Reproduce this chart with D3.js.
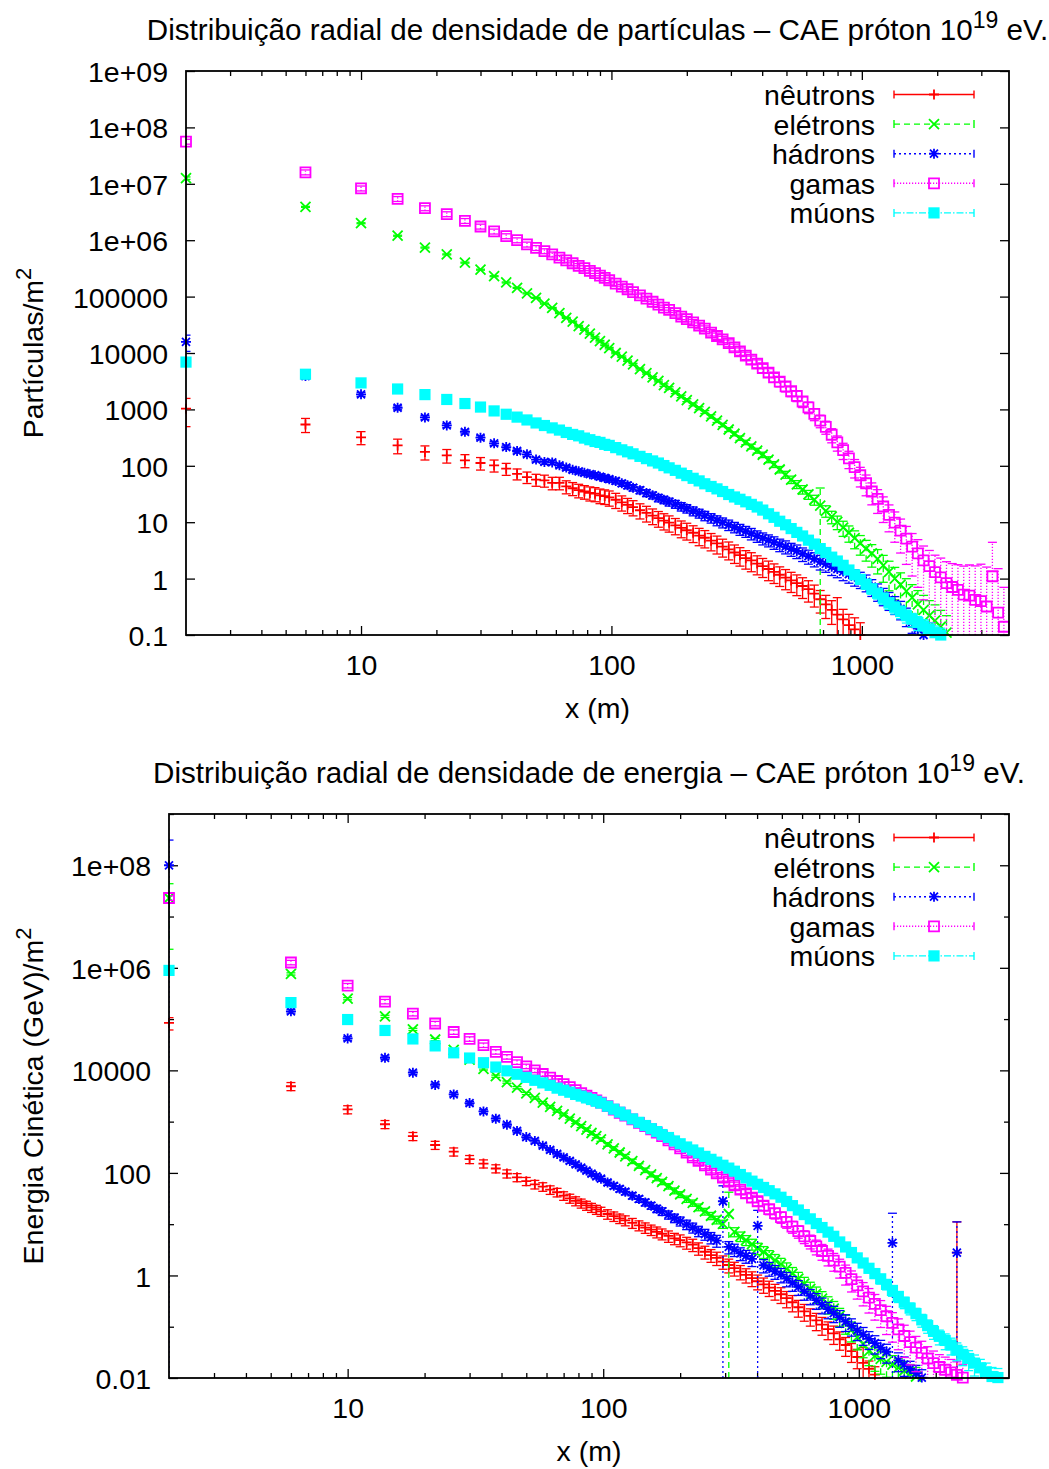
<!DOCTYPE html>
<html><head><meta charset="utf-8">
<script src="https://cdn.jsdelivr.net/npm/d3@7"></script>
<style>body{margin:0;background:#fff}</style>
</head><body>
<svg id="c" width="1049" height="1469"></svg>
<script>
// ---------- DATA ----------
const X = [2,6,10,14,18,22,26,30,34,38,42,46,50,54,58,62,66,70,74,78,82,86,90,94,98,
104,110,116,122,130,138,146,154,162,170,180,190,200,212,224,236,250,264,278,294,310,326,344,362,382,
402,424,446,470,496,522,550,580,612,646,682,718,758,798,842,888,936,986,1040,1096,1156,1218,1284,1354,1428,
1506,1588,1674,1764,1860,1960,2066,2178,2296,2420,2552,2690,2836,2990,3152,3322,3502,3692];

const seriesNames = ["nêutrons","elétrons","hádrons","gamas","múons"];

// Partículas/m2 (top chart)
const neutronsTop = [1030,540,320,230,176,153,125,112,102,89,
 72,63,57,55,50,50,43,40,37,35,
 33,32,30,29,27.5,25,22.5,20.3,18.5,16.3,
 14.6,13.1,11.8,10.7,9.8,8.8,7.9,7.2,6.5,5.8,
 5.3,4.7,4.2,3.7,3.3,2.9,2.6,2.3,2.1,1.85,
 1.66,1.48,1.32,1.17,1.04,0.93,0.83,0.74,0.65,0.54,
 0.43,0.35,0.28,0.23,0.19,0.15,0.126,0.1];
const neutronsTopErr = [.52,.28,.26,.29,.28,.27,.26,.25,.24,.24,
 .22,.23,.24,.24,.25,.25,.26,.26,.27,.27,
 .28,.28,.29,.29,.3,.3,.3,.3,.3,.3,
 .31,.31,.31,.32,.32,.32,.33,.33,.33,.34,
 .34,.34,.35,.35,.35,.36,.36,.36,.37,.37,
 .37,.38,.38,.38,.39,.39,.4,.4,.41,.42,
 .43,.44,.45,1.0,.5,.55,.6,.65];

const electronsTop = [1.26e7,3.9e6,2.0e6,1.2e6,7.4e5,5.6e5,4.0e5,3.0e5,2.3e5,1.78e5,
 1.43e5,1.14e5,9.5e4,7.5e4,6.3e4,5.1e4,4.2e4,3.6e4,3.0e4,2.6e4,
 2.2e4,1.88e4,1.62e4,1.4e4,1.22e4,1.0e4,8.6e3,7.3e3,6.3e3,5.2e3,
 4.4e3,3.7e3,3.2e3,2.7e3,2.4e3,2.0e3,1.7e3,1.46e3,1.23e3,1.05e3,
 900,750,630,530,440,370,310,260,220,186,
 157,129,106,86,70,57,47,38,31,25,
 19.7,15.9,12.5,10.1,8.0,6.5,5.2,4.2,3.4,2.8,
 2.24,1.72,1.32,1.0,0.78,0.6,0.46,0.35,0.28,0.22,
 0.18,0.14,0.11];
const electronsTopErr = [.05,.02,.02,.02,.02,.02,.02,.02,.02,.02,
 .02,.02,.02,.02,.02,.02,.02,.02,.03,.03,
 .03,.03,.03,.03,.03,.03,.03,.03,.04,.04,
 .04,.04,.04,.05,.05,.05,.05,.06,.06,.06,
 .06,.07,.07,.07,.08,.08,.09,.09,.1,.1,
 .11,.12,.12,.13,.14,.15,.16,.17,.18,.2,
 1.05,.23,.25,.27,.3,.32,.35,.38,.4,.43,
 .46,.5,.54,.58,.62,.66,.7,.75,.8,.85,
 .9,.95,1.0];

const hadronsTop = [1.57e4,3.9e3,1.85e3,1.07e3,720,520,400,315,250,215,
 183,160,129,117,115,102,93,85,80,75,
 71,68,64,61,58,54,49,45,41,37,
 33,30,27,25,23,21,19,17.5,15.8,14.4,
 13.1,11.9,10.8,9.9,9.0,8.2,7.5,6.9,6.3,5.7,
 5.2,4.8,4.4,4.0,3.7,3.35,3.1,2.75,2.5,2.24,
 2.0,1.82,1.62,1.48,1.33,1.2,1.08,0.98,0.87,0.72,
 0.6,0.5,0.42,0.355,0.29,0.22,0.17,0.13,0.1];
const hadronsTopErr = [.32,.1,.08,.08,.08,.08,.08,.08,.08,.08,
 .08,.08,.09,.09,.09,.09,.1,.1,.1,.1,
 .1,.11,.11,.11,.12,.12,.12,.13,.13,.14,
 .14,.14,.15,.15,.16,.16,.17,.17,.18,.18,
 .19,.19,.2,.2,.21,.21,.22,.22,.23,.23,
 .24,.24,.25,.25,.26,.26,.27,.27,.28,.28,
 .29,.29,.3,.3,.31,.31,.32,.32,.33,.33,
 .34,.34,.35,.35,.36,.36,.37,.37,.38];

const gamasTop = [5.6e7,1.6e7,8.3e6,5.4e6,3.7e6,2.9e6,2.2e6,1.75e6,1.43e6,1.18e6,
 1.0e6,8.4e5,7.3e5,6.4e5,5.6e5,4.9e5,4.4e5,3.9e5,3.5e5,3.2e5,
 2.85e5,2.6e5,2.35e5,2.15e5,1.95e5,1.7e5,1.5e5,1.35e5,1.2e5,1.05e5,
 9.2e4,8.1e4,7.2e4,6.4e4,5.8e4,5.1e4,4.4e4,4.0e4,3.5e4,3.05e4,
 2.7e4,2.3e4,2.0e4,1.75e4,1.5e4,1.26e4,1.07e4,9.0e3,7.6e3,6.5e3,
 5.4e3,4.5e3,3.7e3,3.1e3,2.55e3,2.1e3,1.74e3,1.38e3,1.09e3,830,
 630,490,355,260,190,135,95,68,49,35,
 26,19,13.5,9.8,7.1,5.1,3.7,2.8,2.1,1.66,
 1.3,1.05,0.83,0.71,0.63,0.52,0.5,0.42,0.4,0.32,
 1.1,0.25,0.14];
const gamasTopErr = [.1,.1,.1,.1,.1,.1,.1,.1,.1,.1,
 .1,.1,.1,.1,.1,.1,.1,.1,.1,.1,
 .1,.1,.1,.1,.1,.1,.1,.1,.1,.1,
 .1,.1,.1,.1,.1,.11,.11,.11,.12,.12,
 .12,.13,.13,.13,.14,.14,.15,.15,.16,.16,
 .17,.17,.18,.19,.2,.2,.21,.22,.23,.24,
 .25,.26,.28,.3,.32,.34,.36,.38,.4,.42,
 .45,.48,.5,.55,.6,.65,.7,.75,.8,.9,
 1.0,1.2,1.4,1.6,1.8,2.2,2.5,3,3.5,4,
 3,5,4];

const muonsTop = [6.9e3,4.2e3,2.95e3,2.3e3,1.83e3,1.5e3,1.27e3,1.1e3,940,820,
 730,650,575,518,470,430,390,360,340,310,
 290,270,260,240,230,210,192,177,163,147,
 134,122,112,101,92,83,74,67,60,54,
 48,43,39,35,31,28,25.5,23,20.7,18.6,
 16.4,14.1,12.2,10.4,9.0,7.7,6.6,5.7,4.8,4.1,
 3.4,2.9,2.4,2.05,1.72,1.42,1.17,0.97,0.8,0.66,
 0.55,0.45,0.37,0.31,0.26,0.22,0.19,0.166,0.145,0.126,
 0.11,0.1];
const muonsTopErr = [.03,.03,.03,.03,.03,.03,.03,.03,.03,.03,
 .03,.03,.03,.03,.03,.03,.03,.03,.03,.03,
 .03,.03,.03,.03,.03,.03,.03,.03,.03,.03,
 .03,.03,.03,.03,.03,.03,.03,.03,.03,.03,
 .04,.04,.04,.04,.05,.05,.05,.05,.06,.06,
 .06,.07,.07,.08,.08,.09,.09,.1,.1,.11,
 .12,.12,.13,.14,.15,.16,.17,.18,.19,.2,
 .21,.22,.23,.24,.25,.26,.27,.28,.29,.3,
 .31,.32];

// Energia Cinética (GeV)/m2 (bottom chart)
const neutronsBot = [8.4e4,4.9e3,1.73e3,890,520,350,260,185,152,122,
 97,82,69,60,54,47,42,36,32,28.5,
 25.7,23.3,21.2,19.4,17.8,15.8,14.3,13.0,11.9,10.6,
 9.5,8.6,7.8,7.1,6.5,5.9,5.3,4.9,4.4,4.0,
 3.4,2.9,2.5,2.2,1.86,1.6,1.39,1.19,1.03,0.89,
 0.77,0.67,0.58,0.5,0.43,0.36,0.3,0.24,0.2,0.163,
 0.133,0.11,0.09,0.074,0.057,0.044,0.0335,0.0257,0.0197,0.0151,
 0.0116,null,null,null,null,null,null,null,null,null,
 null,null,null,null,2.8];
const neutronsBotErr = [.27,.18,.18,.18,.18,.18,.18,.18,.18,.18,
 .18,.18,.18,.19,.19,.19,.19,.19,.2,.2,
 .2,.2,.2,.2,.2,.21,.21,.21,.22,.22,
 .22,.23,.23,.24,.24,.25,.25,.26,.26,.27,
 .27,.28,.28,.29,.29,.3,.3,.31,.31,.32,
 .32,.33,.33,.34,.34,.35,.35,.36,.36,.37,
 .37,.38,.38,.39,.39,.4,.4,.41,1.0,.42,
 .43,0,0,0,0,0,0,0,0,0,
 0,0,0,0,2.96];

const electronsBot = [2.3e7,7.6e5,2.5e5,1.13e5,6.3e4,4.0e4,2.5e4,1.62e4,1.07e4,7.7e3,
 5.9e3,4.6e3,3.55e3,2.9e3,2.35e3,1.95e3,1.62e3,1.38e3,1.15e3,970,
 820,700,600,520,450,360,300,250,210,169,
 137,113,94,79,67,55,45,38,31,26,
 21.5,17.7,14.6,12.2,10.1,15.8,7.1,5.8,4.9,4.1,
 3.4,2.9,2.4,2.0,1.67,1.35,1.09,0.87,0.69,0.55,
 0.44,0.355,0.28,0.225,0.164,0.119,0.087,0.063,0.046,0.0335,
 0.027,0.0237,0.0207,0.0182,0.0159,0.014,0.0122,0.0107];
const electronsBotErr = [.9,.05,.05,.05,.05,.05,.05,.05,.05,.05,
 .05,.05,.05,.05,.05,.06,.06,.06,.06,.06,
 .07,.07,.07,.07,.08,.08,.08,.09,.09,.1,
 .1,.1,.11,.11,.12,.12,.13,.13,.14,.14,
 .15,.15,.16,.17,.18,1.66,.2,.21,.22,.24,
 .25,.26,.27,.28,.29,.3,.31,.32,.33,.34,
 .35,.36,.37,.38,.39,.4,.42,.44,.46,.48,
 .5,.5,.5,.5,.5,.5,.5,.5];

const hadronsBot = [1.0e8,1.42e5,4.2e4,1.76e4,9.0e3,5.2e3,3.4e3,2.3e3,1.58e3,1.14e3,
 870,660,500,420,340,280,235,200,171,147,
 127,111,97,86,77,65,56,49,43,36,
 31,26.6,23,20,17.8,15.3,13.2,11.5,9.9,8.6,
 7.4,6.4,5.5,4.8,28,3.6,3.2,2.7,2.4,2.1,
 9.3,1.58,1.38,1.2,1.04,0.87,0.72,0.6,0.49,0.4,
 0.33,0.27,0.22,0.185,0.152,0.126,0.104,0.085,0.07,0.058,
 0.048,0.039,0.0325,4.3,0.0221,0.0182,0.015,0.0124,0.0102,null,
 null,null,null,null,2.8];
const hadronsBotErr = [2.1,.08,.08,.08,.08,.08,.08,.08,.08,.08,
 .08,.08,.08,.09,.09,.09,.09,.1,.1,.1,
 .1,.1,.11,.11,.11,.12,.12,.13,.13,.14,
 .14,.15,.15,.16,.17,.18,.19,.2,.21,.22,
 .23,.24,.25,.26,1.0,.27,.27,.28,.28,.29,
 1.0,.29,.3,.3,.31,.31,.32,.32,.33,.33,
 .34,.34,.35,.35,.36,.36,.37,.37,.38,.38,
 .39,.39,.4,2.8,.4,.41,.41,.42,.42,0,
 0,0,0,0,2.96];

const gamasBot = [2.3e7,1.27e6,4.5e5,2.2e5,1.28e5,8.2e4,5.6e4,4.1e4,3.1e4,2.3e4,
 1.84e4,1.45e4,1.2e4,1.0e4,8.5e3,7.2e3,6.2e3,5.4e3,4.7e3,4.1e3,
 3.6e3,3.2e3,2.9e3,2.6e3,2.35e3,2.0e3,1.71e3,1.49e3,1.31e3,1.11e3,
 950,820,710,610,520,430,360,300,250,200,
 171,140,116,98,81,68,57,47,40,33,
 28,23,19.6,16.4,13.7,11.1,9.0,7.3,5.8,4.7,
 3.7,3.0,2.4,1.95,1.48,1.12,0.85,0.64,0.49,0.37,
 0.28,0.21,0.16,0.119,0.089,0.066,0.05,0.039,0.031,0.024,
 0.0195,0.0164,0.0145,0.0129,0.0115,0.0102];
const gamasBotErr = [.1,.1,.1,.1,.1,.1,.1,.1,.1,.1,
 .1,.1,.1,.1,.1,.1,.1,.1,.1,.1,
 .1,.1,.1,.1,.1,.1,.1,.1,.1,.1,
 .1,.1,.11,.11,.11,.12,.12,.12,.13,.13,
 .13,.14,.14,.15,.15,.16,.16,.17,.18,.19,
 .2,.21,.22,.23,.24,.25,.26,.27,.28,.3,
 .32,.34,.36,.38,.4,.42,.44,.46,.48,.5,
 .52,.54,.56,.58,.6,.62,.64,.66,.68,.7,
 .72,.74,.76,.78,.8,.82];

const muonsBot = [8.9e5,2.1e5,9.8e4,6.0e4,4.1e4,3.0e4,2.2e4,1.74e4,1.41e4,1.16e4,
 9.8e3,8.4e3,7.3e3,6.4e3,5.7e3,5.1e3,4.5e3,4.1e3,3.75e3,3.4e3,
 3.15e3,2.9e3,2.7e3,2.5e3,2.3e3,2.0e3,1.75e3,1.53e3,1.34e3,1.13e3,
 970,840,730,640,560,490,420,370,320,280,
 245,210,184,162,141,124,108,93,80,69,
 60,52,45,39,33.5,27.7,23,18.9,15.4,12.7,
 10.3,8.6,7.0,5.8,4.5,3.6,2.8,2.2,1.75,1.38,
 1.09,0.86,0.67,0.51,0.39,0.3,0.23,0.18,0.136,0.105,
 0.081,0.065,0.054,0.044,0.035,0.029,0.024,0.0195,0.0158,0.0132,
 0.0107,0.0102];
const muonsBotErr = [.03,.03,.03,.03,.03,.03,.03,.03,.03,.03,
 .03,.03,.03,.03,.03,.03,.03,.03,.03,.03,
 .03,.03,.03,.03,.03,.03,.03,.03,.03,.03,
 .03,.03,.03,.03,.03,.03,.03,.03,.03,.03,
 .03,.03,.04,.04,.04,.04,.05,.05,.05,.05,
 .06,.06,.06,.07,.07,.08,.08,.09,.09,.1,
 .1,.11,.12,.13,.14,.15,.16,.17,.18,.19,
 .2,.21,.22,.23,.24,.25,.26,.27,.28,.29,
 .3,.32,.34,.36,.38,.4,.42,.44,.46,.48,
 .5,.5];

// ticks
const xMajorTicks = [10,100,1000];
const xMajorLabels = ["10","100","1000"];
const xMinorTicks = [3,4,5,6,7,8,9,20,30,40,50,60,70,80,90,200,300,400,500,600,700,800,900,2000,3000];
const yTicksTop = [0.1,1,10,100,1000,1e4,1e5,1e6,1e7,1e8,1e9];
const yLabelsTop = ["0.1","1","10","100","1000","10000","100000","1e+06","1e+07","1e+08","1e+09"];
const yTicksBot = [0.01,1,100,1e4,1e6,1e8];
const yLabelsBot = ["0.01","1","100","10000","1e+06","1e+08"];
const yMinorBot = [0.1,10,1000,1e5,1e7,1e9];

// ---------- STYLE / LAYOUT ----------
const FONT = '"Liberation Sans", Arial, Helvetica, sans-serif';
const FS = 28.5;
const FS_TITLE = 29.6;
const colors = ["#ff0000","#00ff00","#0000ff","#ff00ff","#00ffff"];
const dashes = [null,"6,4","2,3","1.2,1.8","7,2,1.5,2"];
const markers = ["plus","cross","star","square","fsquare"];

const panels = [
  {left:186,right:1009,top:71,bottom:635,ydom:[0.1,1e9],
   yMajor:yTicksTop,yLabels:yLabelsTop,yMinor:[],
   title:["Distribuição radial de densidade de partículas – CAE próton 10","19"," eV."],titleY:40,
   ylabel:["Partículas/m","2"],
   series:[neutronsTop,electronsTop,hadronsTop,gamasTop,muonsTop],
   errs:[neutronsTopErr,electronsTopErr,hadronsTopErr,gamasTopErr,muonsTopErr]},
  {left:169,right:1009,top:814,bottom:1378,ydom:[0.01,1e9],
   yMajor:yTicksBot,yLabels:yLabelsBot,yMinor:yMinorBot,
   title:["Distribuição radial de densidade de energia – CAE próton 10","19"," eV."],titleY:783,
   ylabel:["Energia Cinética (GeV)/m","2"],
   series:[neutronsBot,electronsBot,hadronsBot,gamasBot,muonsBot],
   errs:[neutronsBotErr,electronsBotErr,hadronsBotErr,gamasBotErr,muonsBotErr]}
];

const svg = d3.select("#c");
svg.append("rect").attr("width",1049).attr("height",1469).attr("fill","#fff");

function markerPath(type){
  const s = 5;
  switch(type){
    case "plus": return `M${-s},0H${s}M0,${-s}V${s}`;
    case "cross": return `M${-s},${-s}L${s},${s}M${-s},${s}L${s},${-s}`;
    case "star": return `M${-s},0H${s}M0,${-s}V${s}M${-s*0.8},${-s*0.8}L${s*0.8},${s*0.8}M${-s*0.8},${s*0.8}L${s*0.8},${-s*0.8}`;
    case "square": return `M${-s},${-s}H${s}V${s}H${-s}Z`;
    case "fsquare": return `M${-s-0.6},${-s-0.6}H${s+0.6}V${s+0.6}H${-s-0.6}Z`;
  }
}
function drawMarker(g, type, color, cx, cy){
  const p = g.append("path").attr("d", markerPath(type)).attr("transform",`translate(${cx},${cy})`);
  if(type==="fsquare") p.attr("fill",color).attr("stroke","none");
  else p.attr("fill","none").attr("stroke",color).attr("stroke-width",1.8);
}

panels.forEach((P, pi) => {
  const x = d3.scaleLog().domain([2,3870]).range([P.left,P.right]);
  const y = d3.scaleLog().domain(P.ydom).range([P.bottom,P.top]);
  const W = P.right-P.left, H = P.bottom-P.top;

  const clipId = "clip"+pi;
  svg.append("clipPath").attr("id",clipId).append("rect")
    .attr("x",P.left).attr("y",P.top).attr("width",W).attr("height",H);

  // axes (inward ticks, gnuplot style)
  const gx = svg.append("g").attr("transform",`translate(0,${P.bottom})`)
    .call(d3.axisBottom(x).tickValues(xMajorTicks).tickFormat((d,i)=>xMajorLabels[i]).tickSize(-9).tickSizeOuter(0).tickPadding(20));
  gx.attr("font-family",FONT).attr("font-size",FS);
  gx.select(".domain").remove();
  const gxm = svg.append("g").attr("transform",`translate(0,${P.bottom})`)
    .call(d3.axisBottom(x).tickValues(xMinorTicks).tickFormat("").tickSize(-5).tickSizeOuter(0));
  gxm.select(".domain").remove();
  const gxt = svg.append("g").attr("transform",`translate(0,${P.top})`)
    .call(d3.axisTop(x).tickValues(xMajorTicks).tickFormat("").tickSize(-9).tickSizeOuter(0));
  gxt.select(".domain").remove();
  const gxtm = svg.append("g").attr("transform",`translate(0,${P.top})`)
    .call(d3.axisTop(x).tickValues(xMinorTicks).tickFormat("").tickSize(-5).tickSizeOuter(0));
  gxtm.select(".domain").remove();

  const gy = svg.append("g").attr("transform",`translate(${P.left},0)`)
    .call(d3.axisLeft(y).tickValues(P.yMajor).tickFormat((d,i)=>P.yLabels[i]).tickSize(-9).tickSizeOuter(0).tickPadding(18));
  gy.attr("font-family",FONT).attr("font-size",FS);
  gy.selectAll("text").attr("dy","0.37em");
  gy.select(".domain").remove();
  const gyr = svg.append("g").attr("transform",`translate(${P.right},0)`)
    .call(d3.axisRight(y).tickValues(P.yMajor).tickFormat("").tickSize(-9).tickSizeOuter(0));
  gyr.select(".domain").remove();
  if(P.yMinor.length){
    const gym = svg.append("g").attr("transform",`translate(${P.left},0)`)
      .call(d3.axisLeft(y).tickValues(P.yMinor).tickFormat("").tickSize(-5).tickSizeOuter(0));
    gym.select(".domain").remove();
    const gyrm = svg.append("g").attr("transform",`translate(${P.right},0)`)
      .call(d3.axisRight(y).tickValues(P.yMinor).tickFormat("").tickSize(-5).tickSizeOuter(0));
    gyrm.select(".domain").remove();
  }
  svg.selectAll(".tick line").attr("stroke-width",1.3);
  gx.selectAll("text").attr("dy","0.71em");

  // data
  const [ymin,ymax] = P.ydom;
  P.series.forEach((vals, si) => {
    const errs = P.errs[si];
    const col = colors[si];
    const gErr = svg.append("g").attr("clip-path",`url(#${clipId})`)
      .attr("stroke",col).attr("stroke-width",1.3).attr("fill","none");
    if(dashes[si]) gErr.attr("stroke-dasharray",dashes[si]);
    const gM = svg.append("g");
    vals.forEach((v,i) => {
      if(v==null || v<ymin || v>ymax) return;
      const xv = X[i];
      const cx = x(xv), cy = y(v);
      const e = errs[i]||0;
      const hi = v*(1+e), lo = v*(1-e);
      const yHi = hi>=ymax ? P.top : y(hi);
      const yLo = lo<=ymin ? P.bottom : y(lo);
      if(e>0){
        gErr.append("line").attr("x1",cx).attr("x2",cx).attr("y1",yLo).attr("y2",yHi);
        if(hi<ymax) gErr.append("line").attr("x1",cx-4.5).attr("x2",cx+4.5).attr("y1",yHi).attr("y2",yHi).attr("stroke-dasharray","none");
        if(lo>ymin) gErr.append("line").attr("x1",cx-4.5).attr("x2",cx+4.5).attr("y1",yLo).attr("y2",yLo).attr("stroke-dasharray","none");
      }
      drawMarker(gM, markers[si], col, cx, cy);
    });
  });

  // border on top
  svg.append("rect").attr("x",P.left).attr("y",P.top).attr("width",W).attr("height",H)
    .attr("fill","none").attr("stroke","#000").attr("stroke-width",1.8);

  // legend
  const lg = svg.append("g");
  seriesNames.forEach((name,si) => {
    const ly = P.top + 23.5 + si*29.6;
    lg.append("text").attr("x",875).attr("y",ly+10.5).attr("text-anchor","end")
      .attr("font-family",FONT).attr("font-size",FS).text(name);
    const l = lg.append("g").attr("stroke",colors[si]).attr("stroke-width",1.4).attr("fill","none");
    const ln = l.append("line").attr("x1",894).attr("x2",974).attr("y1",ly).attr("y2",ly);
    if(dashes[si]) ln.attr("stroke-dasharray",dashes[si]);
    l.append("line").attr("x1",894).attr("x2",894).attr("y1",ly-4).attr("y2",ly+4);
    l.append("line").attr("x1",974).attr("x2",974).attr("y1",ly-4).attr("y2",ly+4);
    drawMarker(lg, markers[si], colors[si], 934, ly);
  });

  // title
  const cxm = (P.left+P.right)/2;
  const t = svg.append("text").attr("x",cxm).attr("y",P.titleY).attr("text-anchor","middle")
    .attr("font-family",FONT).attr("font-size",FS_TITLE);
  t.append("tspan").text(P.title[0]);
  t.append("tspan").attr("dy",-12).attr("font-size",23).text(P.title[1]);
  t.append("tspan").attr("dy",12).text(P.title[2]);

  // x label
  svg.append("text").attr("x",cxm).attr("y",P.bottom+83).attr("text-anchor","middle")
    .attr("font-family",FONT).attr("font-size",FS).text("x (m)");

  // y label
  const yl = svg.append("text").attr("transform",`translate(43,${(P.top+P.bottom)/2}) rotate(-90)`)
    .attr("text-anchor","middle").attr("font-family",FONT).attr("font-size",FS);
  yl.append("tspan").text(P.ylabel[0]);
  yl.append("tspan").attr("dy",-12).attr("font-size",22).text(P.ylabel[1]);
});
</script>
</body></html>
